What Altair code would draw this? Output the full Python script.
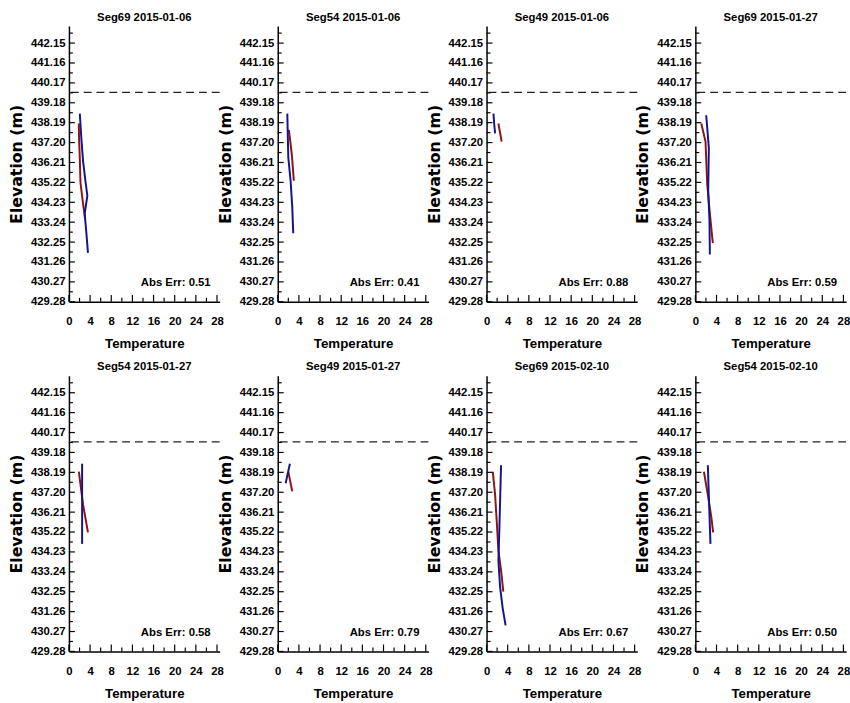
import altair as alt
import pandas as pd

# ---------------- data ----------------
titles = ["Seg69  2015-01-06", "Seg54  2015-01-06", "Seg49  2015-01-06", "Seg69  2015-01-27",
          "Seg54  2015-01-27", "Seg49  2015-01-27", "Seg69  2015-02-10", "Seg54  2015-02-10"]
abs_err = ["0.51", "0.41", "0.88", "0.59", "0.58", "0.79", "0.67", "0.50"]

blue_temp = [
    [2.05, 2.35, 2.67, 3.11, 3.48, 2.98, 3.3, 3.6],
    [1.81, 1.9, 2.0, 2.43, 2.74, 2.93],
    [1.31, 1.45, 1.62],
    [2.05, 2.55, 2.43, 2.67, 2.74],
    [2.49, 2.49, 2.49],
    [1.49, 2.3],
    [2.74, 2.43, 2.24, 2.55, 3.04, 3.6],
    [2.36, 2.6, 2.86],
]
blue_elev = [
    [438.64, 437.4, 436.28, 435.3, 434.56, 433.67, 432.69, 431.71],
    [438.64, 437.5, 436.44, 435.3, 434.0, 432.69],
    [438.64, 438.1, 437.66],
    [438.56, 436.93, 434.81, 433.34, 431.63],
    [438.62, 436.6, 434.63],
    [437.65, 438.62],
    [438.54, 435.44, 433.81, 432.5, 431.45, 430.58],
    [438.54, 436.6, 434.63],
]
red_temp = [
    [1.87, 1.9, 2.05, 2.18, 2.67, 3.05],
    [2.1, 2.4, 2.7, 2.9, 3.04],
    [2.24, 2.55, 2.86],
    [1.12, 1.92, 2.24, 2.74, 3.3],
    [1.87, 2.67, 3.6],
    [2.0, 2.74],
    [1.18, 1.62, 1.92, 2.24, 2.74, 3.17],
    [1.62, 2.36, 3.04, 3.36],
]
red_elev = [
    [438.15, 437.5, 436.46, 435.2, 434.16, 433.4],
    [437.83, 437.2, 436.5, 435.8, 435.3],
    [438.15, 437.7, 437.25],
    [438.15, 437.25, 435.14, 433.67, 432.2],
    [438.22, 436.58, 435.2],
    [438.22, 437.24],
    [438.22, 437.07, 435.77, 434.3, 433.32, 432.26],
    [438.22, 437.07, 435.93, 435.2],
]
surface_elev = 439.7

y_labels = [429.28, 430.27, 431.26, 432.25, 433.24, 434.23, 435.22, 436.21,
            437.20, 438.19, 439.18, 440.17, 441.16, 442.15]
y_minor = [429.775, 430.765, 431.755, 432.745, 433.735, 434.725, 435.715, 436.705,
           437.695, 438.685, 439.675, 440.665, 441.655, 442.645]
x_labels = [0, 4, 8, 12, 16, 20, 24, 28]
x_minor = [2, 6, 10, 14, 18, 22, 26]

# ---------------- style ----------------
W, H = 153, 280
NARROW = "'Liberation Sans', Arial, sans-serif"
WIDE = "'DejaVu Sans', Verdana, sans-serif"
RED = "#8c1414"
BLUE = "#14148f"
X_DOMAIN = [0, 28.5]
Y_DOMAIN = [429.28, 443.0]
TEXT_T, TEXT_Z = 26.8, 430.2

xscale = alt.Scale(domain=X_DOMAIN, nice=False, zero=False)
yscale = alt.Scale(domain=Y_DOMAIN, nice=False, zero=False)

xaxis = alt.Axis(values=x_labels, ticks=False, grid=False, domainColor="black", domainWidth=1.5,
                 labelFont=NARROW, labelFontWeight="bold", labelFontSize=11.5, labelPadding=14,
                 labelFlush=False, labelOverlap=False, labelColor="black",
                 title="Temperature", titleFont=NARROW, titleFontSize=13.5, titleFontWeight="bold",
                 titlePadding=10, titleColor="black")
yaxis = alt.Axis(values=y_labels, format=".2f", ticks=False, grid=False, domainColor="black",
                 domainWidth=1.5, labelFont=NARROW, labelFontWeight="bold", labelFontSize=11.5,
                 labelPadding=4, labelOverlap=False, labelFlush=False, labelColor="black",
                 title="Elevation (m)", titleFont=WIDE, titleFontSize=16, titleFontWeight="bold",
                 titlePadding=6, titleColor="black")


def panel(k):
    rows = []
    for i, (t, z) in enumerate(zip(red_temp[k], red_elev[k])):
        rows.append({"t": t, "z": z, "s": "red", "i": i})
    for i, (t, z) in enumerate(zip(blue_temp[k], blue_elev[k])):
        rows.append({"t": t, "z": z, "s": "blue", "i": i})
    df = pd.DataFrame(rows)

    X = lambda f: alt.X(f, scale=xscale, axis=xaxis)
    Y = lambda f: alt.Y(f, scale=yscale, axis=yaxis)

    lines = alt.Chart(df).mark_line(strokeWidth=2).encode(
        x=X("t:Q"), y=Y("z:Q"),
        color=alt.Color("s:N", scale=alt.Scale(domain=["red", "blue"], range=[RED, BLUE]), legend=None),
        order="i:Q",
    )
    dash = alt.Chart(pd.DataFrame({"z": [surface_elev]})).mark_rule(
        strokeDash=[8, 5], color="#222222", strokeWidth=1.3
    ).encode(y=Y("z:Q"))
    txt = alt.Chart(pd.DataFrame({"t": [TEXT_T], "z": [TEXT_Z], "label": ["Abs Err: " + abs_err[k]]})).mark_text(
        align="right", baseline="middle", font=NARROW, fontWeight="bold", fontSize=11.5, color="black"
    ).encode(x=X("t:Q"), y=Y("z:Q"), text="label:N")

    ytm = alt.Chart(pd.DataFrame({"v": y_labels})).mark_rule(color="black", strokeWidth=1.2).encode(
        y=Y("v:Q"), x=alt.value(0), x2=alt.value(6))
    ytn = alt.Chart(pd.DataFrame({"v": y_minor})).mark_rule(color="black", strokeWidth=1.2).encode(
        y=Y("v:Q"), x=alt.value(0), x2=alt.value(4))
    xtm = alt.Chart(pd.DataFrame({"v": x_labels})).mark_rule(color="black", strokeWidth=1.2).encode(
        x=X("v:Q"), y=alt.value(H), y2=alt.value(H - 7))
    xtn = alt.Chart(pd.DataFrame({"v": x_minor})).mark_rule(color="black", strokeWidth=1.2).encode(
        x=X("v:Q"), y=alt.value(H), y2=alt.value(H - 4))

    return alt.layer(lines, dash, txt, ytm, ytn, xtm, xtn).properties(
        width=W, height=H,
        title=alt.TitleParams(titles[k], font=NARROW, fontSize=11.5, fontWeight="bold", offset=3, color="black"),
    )


chart = alt.concat(*[panel(k) for k in range(8)], columns=4,
                   spacing={"row": 75, "column": 59}, bounds="flush").configure_view(
    stroke=None).properties(padding={"left": 8, "top": 6, "right": 0, "bottom": 0}, background="white")

chart.save("out.html", embed_options={"renderer": "svg", "actions": False})
